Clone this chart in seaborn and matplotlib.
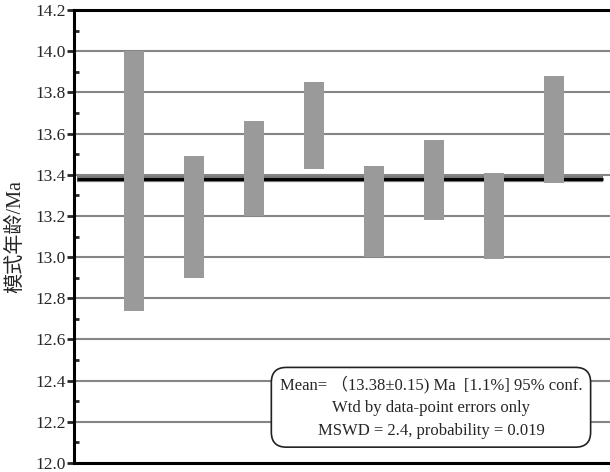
import matplotlib
matplotlib.use("Agg")
import matplotlib.pyplot as plt
import numpy as np
import pandas as pd
import seaborn as sns

# spot ages (Ma), lower / upper end of each 2-sigma box
spot_no = [1, 2, 3, 4, 5, 6, 7, 8]
age_low = [12.74, 12.90, 13.20, 13.43, 13.00, 13.18, 12.99, 13.36]
age_high = [14.00, 13.49, 13.66, 13.85, 13.44, 13.57, 13.41, 13.88]
mean_age = 13.38
y_ticks = [12.0, 12.2, 12.4, 12.6, 12.8, 13.0, 13.2, 13.4, 13.6, 13.8, 14.0, 14.2]
ylabel = "模式年龄/Ma"
box_text = ("Mean= （13.38±0.15) Ma  [1.1%] 95% conf.\n"
            "Wtd by data-point errors only\n"
            "MSWD = 2.4, probability = 0.019")

sns.set_style("white")
plt.rcParams['font.family'] = ['Liberation Serif', 'Noto Sans CJK SC']

df = pd.DataFrame({"spot": spot_no,
                   "height": np.array(age_high) - np.array(age_low),
                   "low": age_low})

fig = plt.figure(figsize=(6.1, 4.72), dpi=100)
ax = fig.add_axes([74 / 610, 1 - 463 / 472, 1 - 74 / 610, 453 / 472])

# grid first, then the mean line, bars on top
for t in y_ticks[1:-1]:
    ax.axhline(t, color="#858585", lw=1.5, zorder=1)

ax.plot([0.05, 8.82], [mean_age, mean_age], color="#7a7a7a", lw=4.5, zorder=2,
        solid_capstyle="butt")
ax.plot([0.05, 8.82], [mean_age, mean_age], color="black", lw=2.2, zorder=2.5,
        solid_capstyle="butt")

sns.barplot(data=df, x="spot", y="height", bottom=df["low"], native_scale=True,
            width=0.33, color="#9a9a9a", saturation=1, errorbar=None,
            linewidth=0, ax=ax, zorder=3)

ax.set_xlim(0, 8.93)
ax.set_ylim(12.0, 14.2)
ax.set_yticks(y_ticks)
ax.set_yticklabels([f"{t:.1f}" for t in y_ticks], fontsize=12.5)
ax.set_yticks(np.arange(12.1, 14.2, 0.2), minor=True)
ax.tick_params(axis="y", which="major", direction="out", length=5, width=2,
               pad=1, left=True)
ax.tick_params(axis="y", which="minor", direction="in", length=3.5, width=2,
               left=True)
ax.set_xticks([])
ax.set_xlabel("")
ax.set_ylabel(ylabel, fontsize=14.5, labelpad=7)

for side in ["left", "top", "bottom"]:
    ax.spines[side].set_linewidth(2.2)
    ax.spines[side].set_color("black")
ax.spines["right"].set_visible(False)

ax.text(0.666, 0.123, box_text, transform=ax.transAxes, ha="center", va="center",
        fontsize=12, linespacing=1.55, zorder=6,
        bbox=dict(boxstyle="round,pad=0.5,rounding_size=0.9", fc="white",
                  ec="#222222", lw=1.2))

fig.savefig("out.png", dpi=100)
